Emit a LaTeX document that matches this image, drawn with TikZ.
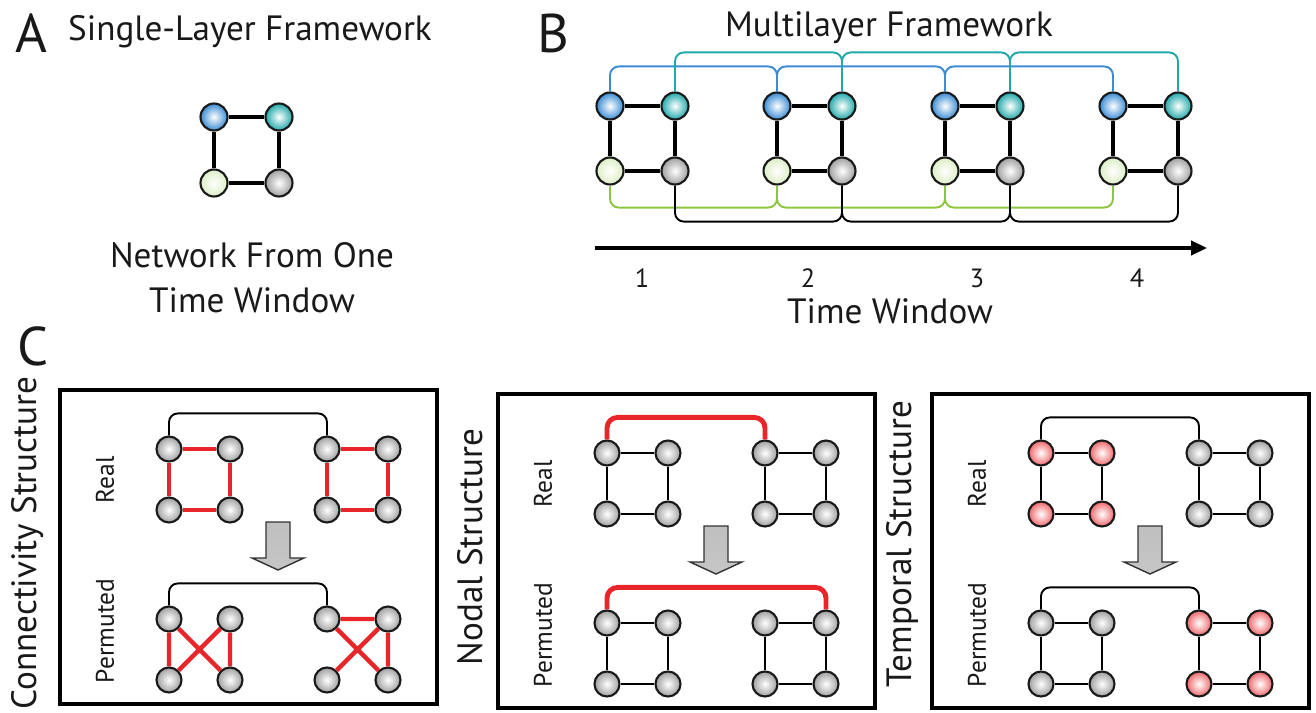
\documentclass[tikz,border=0pt]{standalone}
\usepackage{fontspec}
\setmainfont{PT Sans}
\usetikzlibrary{positioning,arrows.meta}
\definecolor{lblue}{RGB}{58,140,212}
\definecolor{lteal}{RGB}{32,168,170}
\definecolor{lgreen}{RGB}{140,198,63}
\definecolor{lred}{RGB}{232,38,42}

\begin{document}
\begin{tikzpicture}[x=0.02cm,y=-0.02cm]
	\tikzstyle{every node}=[font=\fontsize{20}{24}\selectfont, text=black!90]
	\tikzstyle{big}=[font=\fontsize{31}{34}\selectfont]
	\tikzstyle{num}=[font=\fontsize{15}{18}\selectfont]
	\tikzstyle{lbl}=[font=\fontsize{14.5}{17}\selectfont, rotate=90]
	\tikzstyle{ball}=[circle, draw=black!90, line width=1.2pt, inner sep=0pt, minimum size=0.54cm, inner color=white]
	\tikzstyle{bnode}=[ball, outer color=lblue]
	\tikzstyle{tnode}=[ball, outer color=lteal]
	\tikzstyle{gnode}=[ball, outer color=lgreen!30]
	\tikzstyle{knode}=[ball, outer color=gray!75]
	\tikzstyle{cnode}=[ball, minimum size=0.5cm, outer color=gray!75]
	\tikzstyle{rnode}=[ball, minimum size=0.5cm, outer color=lred!70]
	\tikzstyle{sqedge}=[line width=2.8pt]
	\tikzstyle{kedge}=[line width=1.3pt]
	\tikzstyle{redge}=[line width=2.5pt, lred]
	\tikzstyle{link}=[line width=1.1pt, rounded corners=5pt]
	\tikzstyle{rlink}=[line width=2.8pt, lred, rounded corners=6pt]
	\tikzstyle{frame}=[line width=2.8pt]
	\tikzstyle{barrow}=[draw=black!80, line width=0.8pt, top color=gray!50, middle color=white, bottom color=gray!45]
	\useasboundingbox (0,0) rectangle (1316,713);

	\node[big] (labA) at (31,33) {A};
	\node (ttlA) at (250,32) {Single-Layer Framework};
	\node[bnode] (a1) at (214,117) {};
	\node[tnode] (a2) at (279,117) {};
	\node[gnode] (a3) at (214,183) {};
	\node[knode] (a4) at (279,183) {};
	\draw[sqedge] (a1) -- (a2) (a2) -- (a4) (a4) -- (a3) (a3) -- (a1);
	\node[anchor=base] (netA1) at (252,267) {Network From One};
	\node[anchor=base] (netA2) at (252,312) {Time Window};

	\node[big] (labB) at (553,33) {B};
	\node[anchor=base] (ttlB) at (889,37) {Multilayer Framework};
	\foreach \k/\x in {1/610,2/777,3/945,4/1113}{
		\node[bnode] (tl\k) at (\x,106) {};
		\node[tnode] (tr\k) at (\x+65,106) {};
		\node[gnode] (bl\k) at (\x,171) {};
		\node[knode] (br\k) at (\x+65,171) {};
		\draw[sqedge] (tl\k) -- (tr\k) (tr\k) -- (br\k) (br\k) -- (bl\k) (bl\k) -- (tl\k);
	}
	\foreach \k/\n in {1/2,2/3,3/4}{
		\draw[link, lblue] (tl\k.north) -- ++(0,-25) -| (tl\n.north);
		\draw[link, lteal] (tr\k.north) -- ++(0,-39) -| (tr\n.north);
		\draw[link, lgreen] (bl\k.south) -- ++(0,22) -| (bl\n.south);
		\draw[link] (br\k.south) -- ++(0,36) -| (br\n.south);
	}
	\coordinate (t0) at (595,248);
	\coordinate (t1) at (1207,248);
	\draw[line width=2pt, -{Triangle[length=9pt,width=8pt]}] (t0) -- (t1);
	\node[num] (w1) at (642,278) {1};
	\node[num] (w2) at (808,278) {2};
	\node[num] (w3) at (977,278) {3};
	\node[num] (w4) at (1137,278) {4};
	\node[anchor=base] (ttlT) at (890,323) {Time Window};

	\node[big] (labC) at (33,346) {C};
	\node[rotate=90] (ttlc) at (28,543) {Connectivity Structure};
	\node[rotate=90] (ttln) at (470,547) {Nodal Structure};
	\node[rotate=90] (ttlt) at (902,544) {Temporal Structure};
	\foreach \p/\bx/\dy/\sa/\sb in {c/60/0/cnode/cnode, n/498/4/cnode/cnode, t/932/4/rnode/cnode}{
		\draw[frame] (\bx,390+\dy) rectangle ++(377,314);
		\node[lbl] (\p-real) at (\bx+45,480+\dy) {Real};
		\node[lbl] (\p-perm) at (\bx+45,631+\dy) {Permuted};
		\shade[barrow] (\bx+206,522+\dy) -- ++(24,0) -- ++(0,36) -- ++(14,0) -- ++(-26,12) -- ++(-26,-12) -- ++(14,0) -- cycle;
		\foreach \s/\sx/\sy/\st in {rl/109/449/\sa, rr/267/449/\sb, pl/109/619/\sb, pr/267/619/\sa}{
			\node[\st] (\p\s1) at (\bx+\sx,\sy+\dy) {};
			\node[\st] (\p\s2) at (\bx+\sx+61,\sy+\dy) {};
			\node[\st] (\p\s3) at (\bx+\sx,\sy+\dy+61) {};
			\node[\st] (\p\s4) at (\bx+\sx+61,\sy+\dy+61) {};
		}
	}
	\foreach \s in {rl,rr}
		\draw[redge] (c\s1) -- (c\s2) (c\s2) -- (c\s4) (c\s4) -- (c\s3) (c\s3) -- (c\s1);
	\draw[redge] (cpl1) -- (cpl3) (cpl2) -- (cpl4) (cpl1) -- (cpl4) (cpl2) -- (cpl3);
	\draw[redge] (cpr1) -- (cpr2) (cpr2) -- (cpr4) (cpr1) -- (cpr4) (cpr2) -- (cpr3);
	\foreach \p in {n,t}
		\foreach \s in {rl,rr,pl,pr}
			\draw[kedge] (\p\s1) -- (\p\s2) (\p\s2) -- (\p\s4) (\p\s4) -- (\p\s3) (\p\s3) -- (\p\s1);
	\draw[link] (crl1.north) -- ++(0,-22) -| (crr1.north);
	\draw[link] (cpl1.north) -- ++(0,-22) -| (cpr1.north);
	\draw[rlink] (nrl1.north) -- ++(0,-22) -| (nrr1.north);
	\draw[rlink] (npl1.north) -- ++(0,-22) -| (npr2.north);
	\draw[link] (trl1.north) -- ++(0,-22) -| (trr1.north);
	\draw[link] (tpl1.north) -- ++(0,-22) -| (tpr1.north);
\end{tikzpicture}
\end{document}
